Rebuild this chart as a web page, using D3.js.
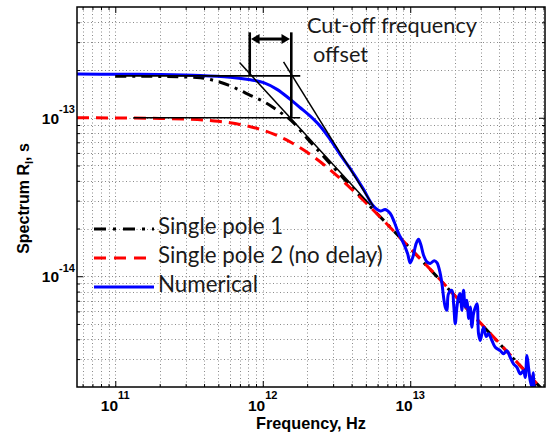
<!DOCTYPE html>
<html><head><meta charset="utf-8">
<script src="https://cdn.jsdelivr.net/npm/d3@7/dist/d3.min.js"></script>
<style>body{margin:0;background:#fff;} svg{display:block;}</style>
</head><body><svg id="c" width="550" height="432"></svg>
<script>
// ---------------- data ----------------
const xDomain = [5.5e10, 8.2e13];
const yDomain = [2e-15, 5e-13];
const xMajor = [1e11, 1e12, 1e13];
const xMajorExp = ["11", "12", "13"];
const yMajor = [1e-14, 1e-13];
const yMajorExp = ["-14", "-13"];

const legendLabels = ["Single pole 1", "Single pole 2 (no delay)", "Numerical"];

// Single pole 1 (black dash-dot)
const pole1Freq = [1e11, 2.02e11, 3.77e11, 4.76e11, 6.02e11, 7.04e11, 8.23e11, 1.008e12, 1.178e12, 1.377e12, 1.561e12, 2e12, 2.5e12, 3e12, 4e12, 5e12, 7e12, 1e13, 1.5e13, 2e13, 3e13, 5e13, 8.2e13];
const pole1Val  = [1.830e-13, 1.823e-13, 1.788e-13, 1.711e-13, 1.590e-13, 1.489e-13, 1.385e-13, 1.269e-13, 1.162e-13, 1.049e-13, 9.61e-14, 7.4e-14, 5.9e-14, 4.9e-14, 3.65e-14, 2.94e-14, 2.13e-14, 1.50e-14, 1.005e-14, 7.55e-15, 5.04e-15, 3.03e-15, 1.85e-15];

// Single pole 2 (no delay) (red dashed)
const pole2Freq = [5.5e10, 1e11, 2e11, 3e11, 4e11, 5e11, 6e11, 7e11, 8e11, 1e12, 1.2e12, 1.5e12, 2e12, 2.5e12, 3e12, 4e12, 5e12, 7e12, 1e13, 1.5e13, 2e13, 3e13, 5e13, 8.2e13];
const pole2Val  = [9.99e-14, 9.98e-14, 9.91e-14, 9.81e-14, 9.67e-14, 9.50e-14, 9.30e-14, 9.08e-14, 8.85e-14, 8.35e-14, 7.85e-14, 7.12e-14, 6.05e-14, 5.20e-14, 4.52e-14, 3.55e-14, 2.91e-14, 2.12e-14, 1.50e-14, 1.01e-14, 7.58e-15, 5.06e-15, 3.04e-15, 1.85e-15];

// Numerical (blue)
const numFreq = [5.50e10, 1.0e11, 2.02e11, 3.77e11, 6.02e11, 8.23e11, 1.013e12, 1.249e12, 1.536e12, 1.796e12, 2.099e12, 2.453e12, 2.868e12, 3.353e12, 3.92e12, 4.80e12, 5.61e12, 6.26e12, 6.77e12, 7.32e12, 7.79e12, 8.33e12, 9.01e12, 9.59e12, 1.0e13, 1.043e13, 1.098e13, 1.138e13, 1.182e13, 1.231e13, 1.298e13, 1.366e13, 1.454e13, 1.517e13, 1.598e13, 1.640e13, 1.727e13, 1.774e13, 1.818e13, 1.917e13, 1.972e13, 2.019e13, 2.073e13, 2.132e13, 2.183e13, 2.235e13, 2.298e13, 2.360e13, 2.423e13, 2.492e13, 2.552e13, 2.620e13, 2.687e13, 2.833e13, 2.905e13, 2.983e13, 3.140e13, 3.276e13, 3.395e13, 3.581e13, 3.771e13, 4.076e13, 4.290e13, 4.524e13, 4.764e13, 5.015e13, 5.289e13, 5.569e13, 5.864e13, 6.022e13, 6.183e13, 6.339e13, 6.510e13, 6.685e13, 6.82e13, 7.04e13, 7.61e13];
const numVal  = [1.887e-13, 1.882e-13, 1.874e-13, 1.849e-13, 1.801e-13, 1.737e-13, 1.667e-13, 1.511e-13, 1.306e-13, 1.157e-13, 1.023e-13, 8.84e-14, 7.28e-14, 5.85e-14, 4.77e-14, 3.56e-14, 2.78e-14, 2.58e-14, 2.64e-14, 2.49e-14, 2.20e-14, 1.866e-14, 1.612e-14, 1.393e-14, 1.214e-14, 1.326e-14, 1.612e-14, 1.709e-14, 1.572e-14, 1.358e-14, 1.232e-14, 1.204e-14, 1.254e-14, 1.218e-14, 1.040e-14, 8.99e-15, 6.39e-15, 6.09e-15, 7.77e-15, 8.15e-15, 6.55e-15, 5.01e-15, 6.39e-15, 7.47e-15, 7.77e-15, 6.09e-15, 8.15e-15, 6.39e-15, 7.05e-15, 5.42e-15, 6.39e-15, 4.77e-15, 5.80e-15, 6.71e-15, 4.33e-15, 3.93e-15, 4.77e-15, 4.16e-15, 4.33e-15, 3.93e-15, 3.56e-15, 3.39e-15, 3.24e-15, 3.39e-15, 3.08e-15, 2.80e-15, 2.66e-15, 2.42e-15, 2.53e-15, 2.30e-15, 3.16e-15, 2.66e-15, 2.19e-15, 2.01e-15, 2.46e-15, 1.9e-15, 1.85e-15];

// Annotation (data coordinates)
const levelHigh = 1.837e-13, levelLow = 1e-13;
const cutoffFreqs = [8.16e11, 1.561e12];
const hLineFrom = [1e11, 1.324e11], hLineTo = 1.796e12;
const vLineTop = 3.46e-13, arrowLevel = 3.14e-13;
const tangentLines = [[6.96e11, 2.23e-13, 5.36e12, 2.82e-14], [1.384e12, 2.252e-13, 5.64e12, 2.75e-14]];
const annotText = ["Cut-off frequency", "offset"];

// ---------------- layout ----------------
const L = 77, R = 545, T = 7, B = 387;
const x = d3.scaleLog().domain(xDomain).range([L, R]);
const y = d3.scaleLog().domain(yDomain).range([B, T]);
const svg = d3.select("#c");
svg.append("rect").attr("width", 550).attr("height", 432).attr("fill", "#fff");
svg.append("defs").append("clipPath").attr("id", "clip")
  .append("rect").attr("x", L).attr("y", T).attr("width", R - L).attr("height", B - T);

function minors(dom) {
  const out = [];
  const lo = Math.floor(Math.log10(dom[0])), hi = Math.ceil(Math.log10(dom[1]));
  for (let n = lo; n <= hi; n++) for (let k = 1; k <= 9; k++) {
    const v = k * Math.pow(10, n);
    if (v >= dom[0] * 1.0001 && v <= dom[1] * 0.9999) out.push(v);
  }
  return out;
}
const xAll = minors(xDomain), yAll = minors(yDomain);
const isMajor = v => Math.abs(Math.log10(v) - Math.round(Math.log10(v))) < 1e-6;
const xMinor = xAll.filter(v => !isMajor(v)), yMinor = yAll.filter(v => !isMajor(v));

// grid
const grid = svg.append("g").attr("stroke", "#8a8a8a").attr("stroke-width", 1).attr("stroke-dasharray", "1,2.5");
grid.selectAll(".gx").data(xAll).join("line")
  .attr("x1", d => Math.round(x(d)) + 0.5).attr("x2", d => Math.round(x(d)) + 0.5).attr("y1", T).attr("y2", B);
grid.selectAll(".gy").data(yAll).join("line")
  .attr("y1", d => Math.round(y(d)) + 0.5).attr("y2", d => Math.round(y(d)) + 0.5).attr("x1", L).attr("x2", R);

// ticks with d3 axes (inward)
function addAxis(gen, tr, vals, size) {
  const g = svg.append("g").attr("transform", tr)
    .call(gen.tickValues(vals).tickSize(size).tickFormat(""));
  g.select(".domain").remove();
  g.selectAll("line").attr("stroke", "#000").attr("stroke-width", 1);
  return g;
}
addAxis(d3.axisBottom(x), `translate(0,${B})`, xMajor, -6);
addAxis(d3.axisBottom(x), `translate(0,${B})`, xMinor, -3);
addAxis(d3.axisTop(x), `translate(0,${T})`, xMajor, -6);
addAxis(d3.axisTop(x), `translate(0,${T})`, xMinor, -3);
addAxis(d3.axisLeft(y), `translate(${L},0)`, yMajor, -6);
addAxis(d3.axisLeft(y), `translate(${L},0)`, yMinor, -3);
addAxis(d3.axisRight(y), `translate(${R},0)`, yMajor, -6);
addAxis(d3.axisRight(y), `translate(${R},0)`, yMinor, -3);

// curves
const plot = svg.append("g").attr("clip-path", "url(#clip)");
const smooth = d3.line().x(d => x(d[0])).y(d => y(d[1])).curve(d3.curveMonotoneX);
const wiggle = d3.line().x(d => x(d[0])).y(d => y(d[1])).curve(d3.curveCatmullRom.alpha(0.5));
plot.append("path").attr("d", smooth(d3.zip(pole1Freq, pole1Val)))
  .attr("fill", "none").attr("stroke", "#000").attr("stroke-width", 3).attr("stroke-dasharray", "11,6,3,6");
plot.append("path").attr("d", smooth(d3.zip(pole2Freq, pole2Val)))
  .attr("fill", "none").attr("stroke", "#ff0000").attr("stroke-width", 3).attr("stroke-dasharray", "12,7");
plot.append("path").attr("d", wiggle(d3.zip(numFreq, numVal)))
  .attr("fill", "none").attr("stroke", "#0000ff").attr("stroke-width", 3).attr("stroke-linejoin", "round");

// annotation
const ann = svg.append("g").attr("stroke", "#000").attr("fill", "none");
[levelHigh, levelLow].forEach((lv, i) => {
  ann.append("line").attr("x1", x(hLineFrom[i])).attr("x2", x(hLineTo)).attr("y1", y(lv)).attr("y2", y(lv)).attr("stroke-width", 1.6);
});
[levelHigh, levelLow].forEach((lv, i) => {
  ann.append("line").attr("x1", x(cutoffFreqs[i])).attr("x2", x(cutoffFreqs[i])).attr("y1", y(vLineTop)).attr("y2", y(lv)).attr("stroke-width", 2.6);
});
tangentLines.forEach(t => {
  ann.append("line").attr("x1", x(t[0])).attr("y1", y(t[1])).attr("x2", x(t[2])).attr("y2", y(t[3])).attr("stroke-width", 1.5);
});
const ax1 = x(cutoffFreqs[0]) + 1.3, ax2 = x(cutoffFreqs[1]) - 1.3, ay = y(arrowLevel);
ann.append("line").attr("x1", ax1 + 6).attr("x2", ax2 - 6).attr("y1", ay).attr("y2", ay).attr("stroke-width", 3);
ann.append("path").attr("d", `M${ax1},${ay}L${ax1 + 8.5},${ay - 5}L${ax1 + 8.5},${ay + 5}Z`).attr("fill", "#000").attr("stroke", "none");
ann.append("path").attr("d", `M${ax2},${ay}L${ax2 - 8.5},${ay - 5}L${ax2 - 8.5},${ay + 5}Z`).attr("fill", "#000").attr("stroke", "none");

// box
svg.append("rect").attr("x", L).attr("y", T).attr("width", R - L).attr("height", B - T)
  .attr("fill", "none").attr("stroke", "#000").attr("stroke-width", 1.5);

function fit(sel, target) {
  const w = sel.node().getComputedTextLength();
  const fs = parseFloat(sel.attr("font-size"));
  sel.attr("font-size", (fs * target / w).toFixed(2));
}

// tick labels
const tickFont = "'Liberation Sans', Arial, sans-serif";
xMajor.forEach((v, i) => {
  const t = svg.append("text").attr("x", x(v)).attr("y", 411).attr("text-anchor", "middle")
    .attr("font-family", tickFont).attr("font-weight", "bold").attr("font-size", 15.5).attr("fill", "#000").text("10");
  t.append("tspan").attr("dy", -12.5).attr("font-size", 11).text(xMajorExp[i]);
});
yMajor.forEach((v, i) => {
  const t = svg.append("text").attr("x", 75).attr("y", y(v) + 6).attr("text-anchor", "end")
    .attr("font-family", tickFont).attr("font-weight", "bold").attr("font-size", 15.5).attr("fill", "#000").text("10");
  t.append("tspan").attr("dy", -10.5).attr("font-size", 11).text(yMajorExp[i]);
});

// axis titles
const xt = svg.append("text").attr("x", 311).attr("y", 429).attr("text-anchor", "middle")
  .attr("font-family", tickFont).attr("font-weight", "bold").attr("font-size", 16).attr("fill", "#000").text("Frequency, Hz");
fit(xt, 110);
const yt = svg.append("text").attr("transform", "translate(29,198.5) rotate(-90)").attr("text-anchor", "middle")
  .attr("font-family", tickFont).attr("font-weight", "bold").attr("font-size", 16).attr("fill", "#000");
yt.append("tspan").text("Spectrum R");
yt.append("tspan").attr("dy", 4).attr("font-size", 11).text("I");
yt.append("tspan").attr("dy", -4).text(", s");

// legend
const txtFont = "Lato, 'Open Sans', sans-serif";
const legY = [229, 258, 287];
const legStyle = [
  {c: "#000", d: "12,7,3,7"}, {c: "#ff0000", d: "12,8"}, {c: "#0000ff", d: null}
];
const legTexts = [];
legendLabels.forEach((lab, i) => {
  const ln = svg.append("line").attr("x1", 94).attr("x2", 154).attr("y1", legY[i]).attr("y2", legY[i])
    .attr("stroke", legStyle[i].c).attr("stroke-width", 3);
  if (legStyle[i].d) ln.attr("stroke-dasharray", legStyle[i].d);
  legTexts.push(svg.append("text").attr("x", 158).attr("y", legY[i] + 4.7)
    .attr("font-family", txtFont).attr("font-size", 18).attr("fill", "#1a1a1a").text(lab));
});
fit(legTexts[1], 225);
const lfs = legTexts[1].attr("font-size");
legTexts.forEach(t => t.attr("font-size", lfs));

const c1 = svg.append("text").attr("x", 307).attr("y", 33.3).attr("font-family", txtFont).attr("font-size", 19)
  .attr("fill", "#1a1a1a").text(annotText[0]);
fit(c1, 170);
svg.append("text").attr("x", 313).attr("y", 61.7).attr("font-family", txtFont).attr("font-size", c1.attr("font-size"))
  .attr("fill", "#1a1a1a").text(annotText[1]);
</script>
</body></html>
